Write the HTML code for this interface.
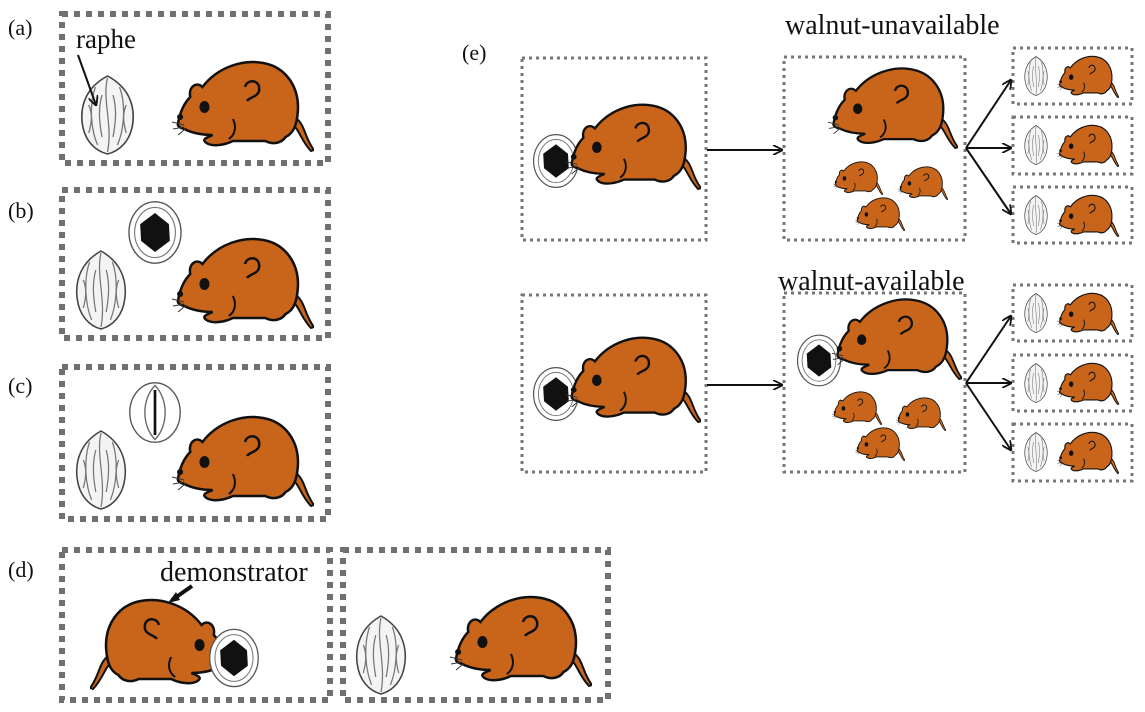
<!DOCTYPE html>
<html><head><style>
html,body{margin:0;padding:0;background:#fff;width:1145px;height:712px;overflow:hidden}
svg{display:block}
text{font-family:"Liberation Serif",serif;fill:#111}
</style></head><body>
<svg width="1145" height="712" viewBox="0 0 1145 712" xmlns="http://www.w3.org/2000/svg">
<defs>
<symbol id="m" viewBox="0 0 140 95" preserveAspectRatio="none">
<path d="M121,60 C132,68 130,80 140,93 L137,94 C126,82 126,72 117,66 Z" fill="#c8651b" stroke="#111" stroke-width="2"/>
<path d="M6,66 C8,55 12,46 18,40 C16,30 24,24 30,30 C45,10 70,2 90,6 C112,10 126,30 124,55 C123,68 120,76 112,80 C108,86 100,88 92,84 L60,84 C52,88 40,90 34,86 C28,82 36,80 40,78 C30,78 20,76 12,72 C8,71 5,69 6,66 Z" fill="#c8651b" stroke="#111" stroke-width="2.5"/>
<path d="M72,30 C74,22 86,22 86,32 C86,40 76,40 74,44" fill="none" stroke="#111" stroke-width="2.5"/>
<path d="M60,62 C64,70 62,78 56,82" fill="none" stroke="#111" stroke-width="2"/>
<ellipse cx="32" cy="50" rx="5" ry="6" fill="#111"/>
<circle cx="8" cy="60" r="3" fill="#111"/>
<path d="M12,68 L0,65 M12,70 L1,72 M14,71 L6,78" stroke="#333" stroke-width="1"/>
</symbol>
<symbol id="w" viewBox="0 0 50 80" preserveAspectRatio="none">
<path d="M25,1 C44,12 50,30 48,48 C46,66 36,76 25,79 C14,76 4,66 2,48 C0,30 6,12 25,1 Z" fill="#f4f4f4" stroke="#444" stroke-width="1.5"/>
<path d="M25,3 C20,25 30,50 25,77 M14,12 C8,30 10,55 16,70 M36,12 C42,30 40,55 34,70 M8,30 C12,40 10,50 8,58 M42,30 C38,40 40,50 42,58 M20,20 C16,35 18,50 20,62 M30,20 C34,35 32,50 30,62" fill="none" stroke="#777" stroke-width="1.2"/>
</symbol>
<symbol id="o" viewBox="0 0 60 70">
<ellipse cx="30" cy="35" rx="28" ry="33" fill="#fff" stroke="#555" stroke-width="1.5"/>
<ellipse cx="30" cy="35" rx="22" ry="27" fill="none" stroke="#777" stroke-width="1.2"/>
<path d="M30,14 L45,26 L46,44 L30,56 L15,44 L14,26 Z" fill="#111"/>
</symbol>
<symbol id="r" viewBox="0 0 60 70">
<ellipse cx="30" cy="35" rx="28" ry="33" fill="#fff" stroke="#555" stroke-width="1.5"/>
<path d="M30,5 C45,20 45,50 30,65 C15,50 15,20 30,5 Z" fill="none" stroke="#666" stroke-width="1.5"/>
<path d="M30,10 L30,60" stroke="#111" stroke-width="3"/>
</symbol>
<marker id="ah" markerWidth="10" markerHeight="10" refX="9" refY="5" orient="auto" markerUnits="userSpaceOnUse"><path d="M0,0 L10,5 L0,10" fill="none" stroke="#111" stroke-width="1.8"/></marker>
</defs>
<g fill="none" stroke="#707070" stroke-width="6" stroke-dasharray="6 6">
<rect x="62" y="14" width="266" height="149"/>
<rect x="62" y="190" width="266" height="148"/>
<rect x="62" y="367" width="266" height="152"/>
<rect x="62" y="550" width="268" height="150"/>
<rect x="343" y="550" width="265" height="150"/>
</g>
<g fill="none" stroke="#777" stroke-width="3" stroke-dasharray="3 4">
<rect x="522" y="58" width="184" height="182"/>
<rect x="522" y="295" width="184" height="177"/>
<rect x="784" y="57" width="181" height="183"/>
<rect x="784" y="293" width="181" height="179"/>
<rect x="1013" y="48" width="119" height="56"/>
<rect x="1013" y="117" width="119" height="57"/>
<rect x="1013" y="187" width="119" height="56"/>
<rect x="1013" y="285" width="119" height="56"/>
<rect x="1013" y="355" width="119" height="56"/>
<rect x="1013" y="424" width="119" height="57"/>
</g>
<g font-size="22">
<text x="8" y="35">(a)</text>
<text x="8" y="218">(b)</text>
<text x="8" y="393">(c)</text>
<text x="8" y="577">(d)</text>
<text x="462" y="60">(e)</text>
<text x="76" y="48" font-size="27">raphe</text>
<text x="160" y="581" font-size="28">demonstrator</text>
<text x="785" y="34" font-size="28">walnut-unavailable</text>
<text x="778" y="290" font-size="28">walnut-available</text>
</g>
<!-- (a) -->
<use href="#w" x="80" y="75" width="55" height="80"/>
<line x1="78" y1="55" x2="96" y2="105" stroke="#111" stroke-width="2" marker-end="url(#ah)"/>
<use href="#m" x="172" y="57" width="142" height="95"/>
<!-- (b) -->
<use href="#w" x="75" y="250" width="52" height="80"/>
<use href="#o" x="127" y="200" width="56" height="65"/>
<use href="#m" x="172" y="234" width="142" height="95"/>
<!-- (c) -->
<use href="#w" x="75" y="430" width="52" height="80"/>
<use href="#r" x="128" y="380" width="54" height="65"/>
<use href="#m" x="172" y="412" width="142" height="95"/>
<!-- (d) -->
<g transform="translate(232,595) scale(-1,1)"><use href="#m" x="0" y="0" width="142" height="95"/></g>
<use href="#o" x="208" y="627" width="52" height="62"/>
<path d="M192,586 L172,600" stroke="#111" stroke-width="4"/>
<path d="M168,603 L176,592 L180,600 Z" fill="#111"/>
<use href="#w" x="355" y="615" width="52" height="80"/>
<use href="#m" x="450" y="592" width="142" height="95"/>
<!-- (e) top -->
<use href="#o" x="532" y="130" width="48" height="62"/>
<use href="#m" x="566" y="100" width="135" height="90"/>
<line x1="707" y1="150" x2="782" y2="150" stroke="#111" stroke-width="2" marker-end="url(#ah)"/>
<use href="#m" x="828" y="64" width="130" height="85"/>
<use href="#m" x="833" y="160" width="50" height="35"/>
<use href="#m" x="898" y="165" width="50" height="35"/>
<use href="#m" x="855" y="196" width="50" height="35"/>
<g stroke="#111" stroke-width="2" fill="none">
<line x1="966" y1="148" x2="1011" y2="80" marker-end="url(#ah)"/>
<line x1="966" y1="148" x2="1011" y2="148" marker-end="url(#ah)"/>
<line x1="966" y1="148" x2="1011" y2="214" marker-end="url(#ah)"/>
<line x1="966" y1="383" x2="1011" y2="316" marker-end="url(#ah)"/>
<line x1="966" y1="383" x2="1011" y2="383" marker-end="url(#ah)"/>
<line x1="966" y1="383" x2="1011" y2="450" marker-end="url(#ah)"/>
</g>
<use href="#w" x="1024" y="56" width="24" height="40"/>
<use href="#m" x="1057" y="54" width="62" height="44"/>
<use href="#w" x="1024" y="125" width="24" height="40"/>
<use href="#m" x="1057" y="123" width="62" height="44"/>
<use href="#w" x="1024" y="195" width="24" height="40"/>
<use href="#m" x="1057" y="193" width="62" height="44"/>
<!-- (e) bottom -->
<use href="#o" x="532" y="363" width="48" height="62"/>
<use href="#m" x="566" y="333" width="135" height="90"/>
<line x1="707" y1="385" x2="782" y2="385" stroke="#111" stroke-width="2" marker-end="url(#ah)"/>
<use href="#o" x="796" y="333" width="46" height="55"/>
<use href="#m" x="832" y="295" width="130" height="85"/>
<use href="#m" x="832" y="390" width="50" height="35"/>
<use href="#m" x="896" y="396" width="50" height="35"/>
<use href="#m" x="855" y="426" width="50" height="35"/>
<use href="#w" x="1024" y="293" width="24" height="40"/>
<use href="#m" x="1057" y="291" width="62" height="44"/>
<use href="#w" x="1024" y="363" width="24" height="40"/>
<use href="#m" x="1057" y="361" width="62" height="44"/>
<use href="#w" x="1024" y="432" width="24" height="40"/>
<use href="#m" x="1057" y="430" width="62" height="44"/>
</svg>
</body></html>
